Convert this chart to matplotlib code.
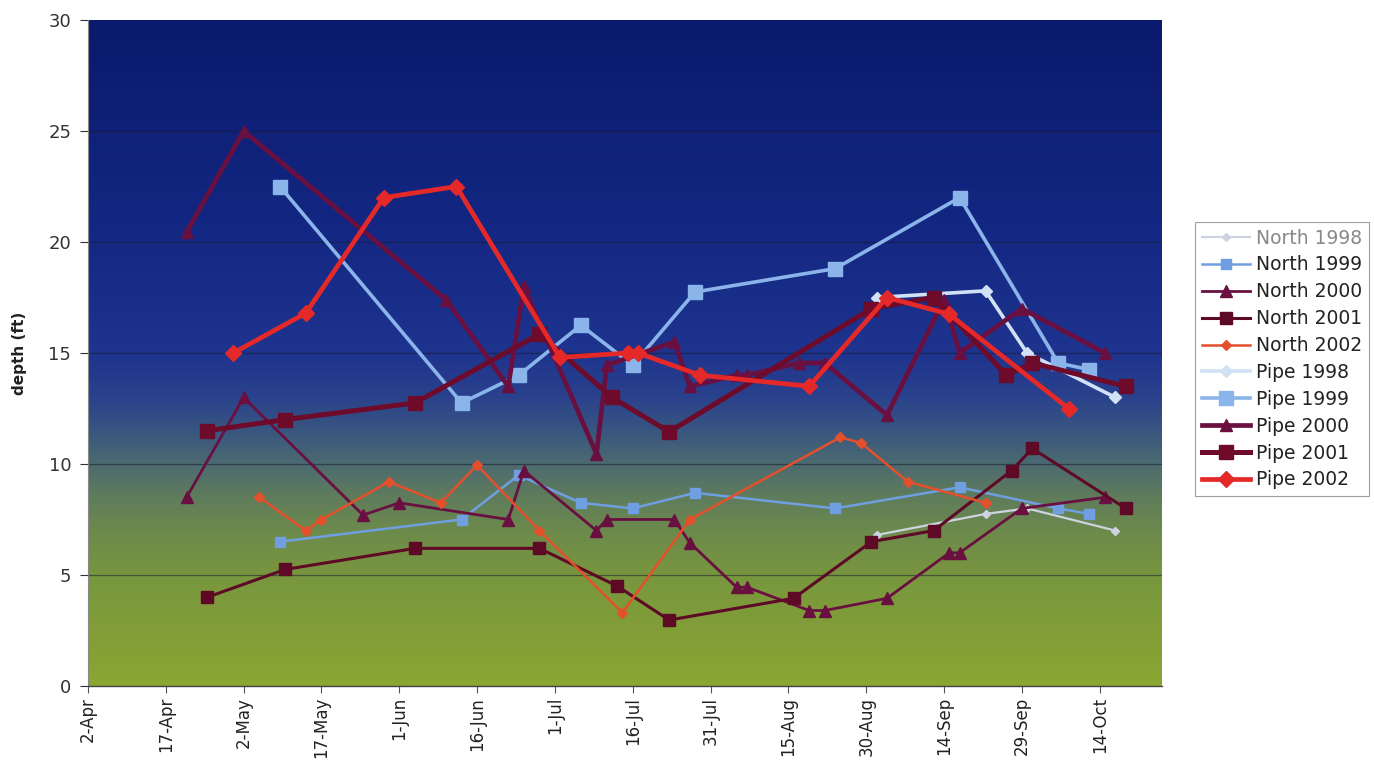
import numpy as np
import pandas as pd
import matplotlib
matplotlib.use("Agg")
import matplotlib.pyplot as plt
import matplotlib.dates as mdates

plt.rcParams['font.family'] = ['DejaVu Sans']

YEAR = 2002

# ---------------- data ----------------
north1998_dates = ["1-Sep", "22-Sep", "30-Sep", "17-Oct"]
north1998_vals = [6.8, 7.75, 8.0, 7.0]

north1999_dates = ["9-May", "13-Jun", "24-Jun", "6-Jul", "16-Jul", "28-Jul", "24-Aug", "17-Sep", "6-Oct", "12-Oct"]
north1999_vals = [6.5, 7.5, 9.5, 8.25, 8.0, 8.7, 8.0, 8.95, 8.0, 7.75]

north2000_dates = ["21-Apr", "2-May", "25-May", "1-Jun", "22-Jun", "25-Jun", "9-Jul", "11-Jul", "24-Jul",
                   "27-Jul", "5-Aug", "7-Aug", "19-Aug", "22-Aug", "3-Sep", "15-Sep", "17-Sep", "29-Sep", "15-Oct"]
north2000_vals = [8.5, 13.0, 7.7, 8.25, 7.5, 9.7, 7.0, 7.5, 7.5,
                  6.45, 4.45, 4.45, 3.4, 3.4, 3.95, 6.0, 6.0, 8.0, 8.5]

north2001_dates = ["25-Apr", "10-May", "4-Jun", "28-Jun", "13-Jul", "23-Jul", "16-Aug", "31-Aug", "12-Sep",
                   "27-Sep", "1-Oct", "19-Oct"]
north2001_vals = [4.0, 5.25, 6.2, 6.2, 4.5, 2.97, 3.95, 6.5, 7.0, 9.7, 10.7, 8.0]

north2002_dates = ["5-May", "14-May", "17-May", "30-May", "9-Jun", "16-Jun", "28-Jun", "14-Jul", "27-Jul",
                   "25-Aug", "29-Aug", "7-Sep", "22-Sep"]
north2002_vals = [8.5, 7.0, 7.5, 9.2, 8.25, 9.95, 7.0, 3.3, 7.5, 11.2, 10.95, 9.2, 8.25]

pipe1998_dates = ["1-Sep", "22-Sep", "30-Sep", "17-Oct"]
pipe1998_vals = [17.5, 17.8, 15.0, 13.0]

pipe1999_dates = ["9-May", "13-Jun", "24-Jun", "6-Jul", "16-Jul", "28-Jul", "24-Aug", "17-Sep", "6-Oct", "12-Oct"]
pipe1999_vals = [22.5, 12.75, 14.0, 16.25, 14.45, 17.75, 18.8, 22.0, 14.55, 14.25]

pipe2000_dates = ["21-Apr", "2-May", "10-Jun", "22-Jun", "25-Jun", "9-Jul", "11-Jul", "24-Jul", "27-Jul",
                  "5-Aug", "7-Aug", "17-Aug", "22-Aug", "3-Sep", "14-Sep", "17-Sep", "29-Sep", "15-Oct"]
pipe2000_vals = [20.45, 25.0, 17.4, 13.5, 18.0, 10.45, 14.45, 15.5, 13.5,
                 14.0, 14.0, 14.55, 14.55, 12.2, 17.4, 15.0, 17.0, 15.0]

pipe2001_dates = ["25-Apr", "10-May", "4-Jun", "28-Jun", "12-Jul", "23-Jul", "31-Aug", "12-Sep", "26-Sep",
                  "1-Oct", "19-Oct"]
pipe2001_vals = [11.5, 12.0, 12.75, 15.85, 13.0, 11.45, 17.0, 17.5, 14.0, 14.55, 13.5]

pipe2002_dates = ["30-Apr", "14-May", "29-May", "12-Jun", "2-Jul", "15-Jul", "17-Jul", "29-Jul", "19-Aug",
                  "3-Sep", "15-Sep", "8-Oct"]
pipe2002_vals = [15.0, 16.8, 22.0, 22.5, 14.8, 15.0, 15.0, 14.0, 13.5, 17.5, 16.75, 12.5]

series_labels = ["North 1998", "North 1999", "North 2000", "North 2001", "North 2002",
                 "Pipe 1998", "Pipe 1999", "Pipe 2000", "Pipe 2001", "Pipe 2002"]

y_ticks = [0, 5, 10, 15, 20, 25, 30]
x_start, x_end = "2-Apr", "26-Oct"
y_label = "depth (ft)"

# ---------------- helpers ----------------
def to_dates(lst):
    return pd.to_datetime([f"{d}-{YEAR}" for d in lst], format="%d-%b-%Y")

series_data = [
    (north1998_dates, north1998_vals),
    (north1999_dates, north1999_vals),
    (north2000_dates, north2000_vals),
    (north2001_dates, north2001_vals),
    (north2002_dates, north2002_vals),
    (pipe1998_dates, pipe1998_vals),
    (pipe1999_dates, pipe1999_vals),
    (pipe2000_dates, pipe2000_vals),
    (pipe2001_dates, pipe2001_vals),
    (pipe2002_dates, pipe2002_vals),
]

styles = [
    dict(color="#cdd3e0", lw=1.6, marker="D", ms=4, ls="-"),
    dict(color="#6f9fe0", lw=1.8, marker="s", ms=7, ls="-"),
    dict(color="#6a1040", lw=2.0, marker="^", ms=8, ls="-"),
    dict(color="#5e0a26", lw=2.2, marker="s", ms=9, ls="-"),
    dict(color="#e5502c", lw=1.8, marker="D", ms=5.5, ls="-"),
    dict(color="#d2e2f6", lw=2.6, marker="D", ms=6, ls="-"),
    dict(color="#8ab4ea", lw=2.6, marker="s", ms=10, ls="-"),
    dict(color="#6a1040", lw=3.4, marker="^", ms=9, ls="-"),
    dict(color="#6e0a2a", lw=3.6, marker="s", ms=10, ls="-"),
    dict(color="#e52828", lw=3.4, marker="D", ms=8, ls="-"),
]

# ---------------- figure ----------------
fig = plt.figure(figsize=(13.74, 7.6), dpi=100)
fig.patch.set_facecolor("white")
ax = fig.add_axes([88 / 1374, 1 - 686 / 760, (1162 - 88) / 1374, (686 - 20) / 760])

x0 = to_dates([x_start])[0]
x1 = to_dates([x_end])[0]

# background gradient (top -> bottom)
stops = np.array([30, 20, 15, 13, 11.5, 10, 8.5, 7, 5, 0])
cols = np.array([
    [10, 26, 108],
    [20, 40, 132],
    [30, 52, 142],
    [42, 66, 140],
    [56, 86, 128],
    [76, 106, 112],
    [95, 124, 92],
    [108, 138, 76],
    [120, 150, 62],
    [138, 166, 50],
]) / 255.0
yy = np.linspace(30, 0, 400)
grad = np.stack([np.interp(yy, stops[::-1], cols[::-1, c]) for c in range(3)], axis=-1)
grad = grad[:, None, :]
ax.imshow(grad, extent=[mdates.date2num(x0), mdates.date2num(x1), 0, 30],
          aspect="auto", zorder=0, interpolation="bilinear")

for yv in y_ticks[1:-1]:
    ax.axhline(yv, color="#1a1a30", lw=0.9, alpha=0.55, zorder=1)

for (dl, vl), lab, st in zip(series_data, series_labels, styles):
    ax.plot(to_dates(dl), vl, color=st["color"], lw=st["lw"], ls=st["ls"],
            marker=st["marker"], ms=st["ms"], mec=st["color"], mfc=st["color"],
            label=lab, zorder=3)

ax.set_xlim(x0, x1)
ax.set_ylim(0, 30)
ax.set_yticks(y_ticks)
ax.tick_params(axis="y", labelsize=13, colors="#333333", length=6, width=0.8, pad=6)

xt = pd.date_range(x0, periods=14, freq="15D")
ax.set_xticks(xt)
ax.set_xticklabels([f"{t.day}-{t.strftime('%b')}" for t in xt], rotation=90, fontsize=12, color="#222222")
ax.tick_params(axis="x", length=5, width=0.8, colors="#555555", labelcolor="#222222", pad=3)

for s in ["top", "right"]:
    ax.spines[s].set_visible(False)
ax.spines["left"].set_color("#888888")
ax.spines["bottom"].set_color("#444444")
ax.spines["bottom"].set_linewidth(1.0)

fig.text(20 / 1374, 1 - 353 / 760, y_label, rotation=90, fontsize=11, fontweight="bold",
         ha="center", va="center", color="#222222")

leg = ax.legend(loc="upper left", bbox_to_anchor=(1195 / 1374, 1 - 222 / 760),
                bbox_transform=fig.transFigure, frameon=True, fancybox=False,
                fontsize=13.5, labelspacing=0.42, handlelength=2.6, handletextpad=0.3,
                borderpad=0.35, borderaxespad=0)
leg.get_frame().set_edgecolor("#888888")
leg.get_frame().set_linewidth(0.8)
for t in leg.get_texts():
    t.set_color("#222222")
leg.get_texts()[0].set_color("#888888")

fig.savefig("out.png", dpi=100, facecolor="white")
